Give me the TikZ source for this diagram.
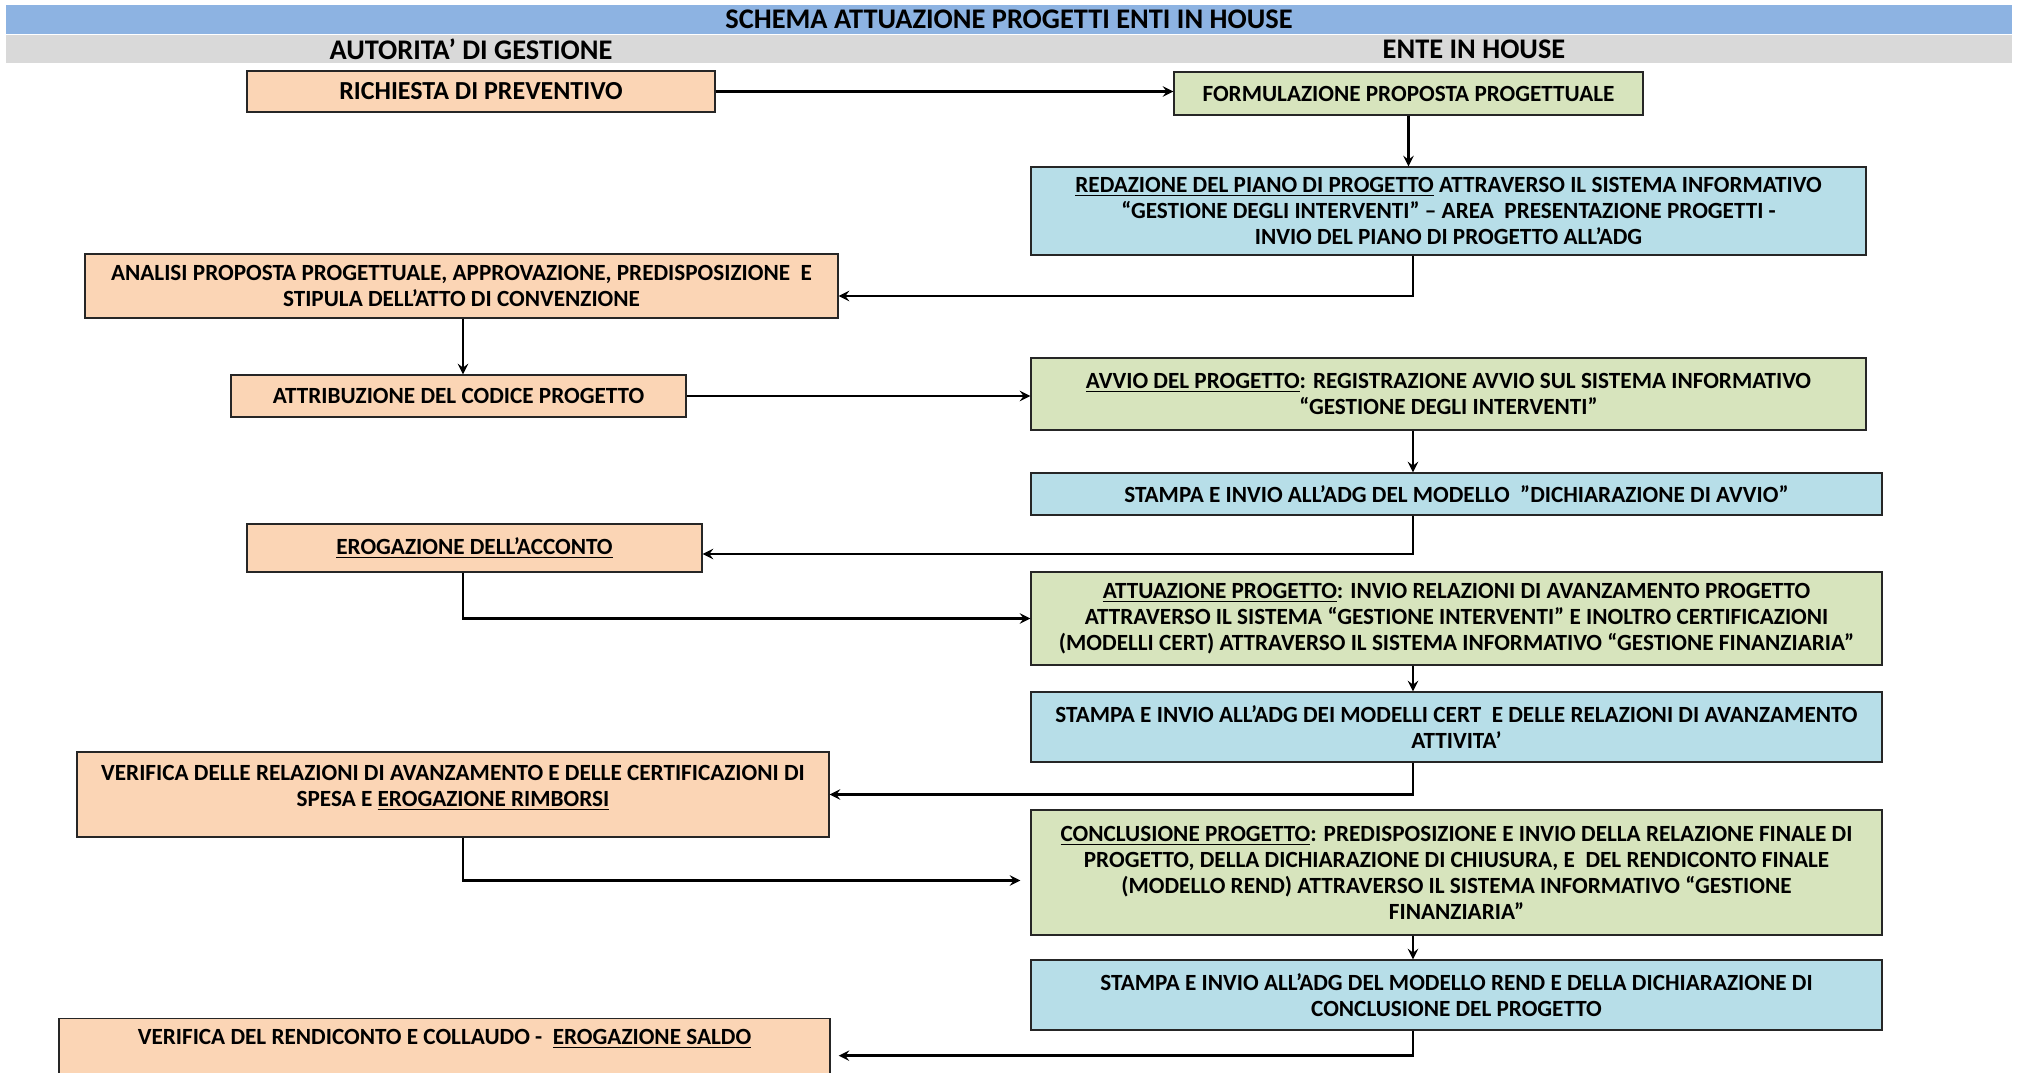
\documentclass[tikz,border=0pt]{standalone}
\usepackage{fontspec}
\setmainfont{Carlito}
\usepackage{tikz}
\usepackage{xcolor}
\usetikzlibrary{arrows, positioning}

\definecolor{headblue}{HTML}{8DB3E2}
\definecolor{headgray}{HTML}{D9D9D9}
\definecolor{agorange}{HTML}{FBD5B5}
\definecolor{entegreen}{HTML}{D7E4BD}
\definecolor{enteblue}{HTML}{B7DEE8}

\begin{document}
\begin{tikzpicture}[x=0.5pt, y=-0.5pt]
\tikzstyle{box} = [rectangle, text centered, align=center, draw=black!85, line width=0.7pt, inner sep=2pt, font=\fontsize{11.6}{13}\selectfont\bfseries]
\tikzstyle{ag} = [box, fill=agorange]
\tikzstyle{green} = [box, fill=entegreen]
\tikzstyle{blue} = [box, fill=enteblue]
\tikzstyle{head} = [inner sep=0pt, font=\fontsize{14.2}{15}\selectfont\bfseries]
\tikzstyle{arrow} = [line width=1.3pt, ->, >=stealth]

\useasboundingbox (0,0) rectangle (2019,1072);
\clip (0,0) rectangle (2019,1072);

% intestazione
\node (titolo) [head, fill=headblue, minimum width=1003pt, minimum height=14.5pt] at (1009,19.5) {SCHEMA ATTUAZIONE PROGETTI ENTI IN HOUSE};
\fill[headgray] (6,35) rectangle (2012,63);
\node (adg) [head] at (471,49) {AUTORITA’ DI GESTIONE};
\node (ente) [head] at (1474,49) {ENTE IN HOUSE};

\coordinate (rx) at (1413,0);
\coordinate (lx) at (463,0);

% autorita' di gestione
\node (richiesta) [ag, minimum width=234pt, minimum height=20.5pt, font=\fontsize{13}{14}\selectfont\bfseries] at (481,91.5) {RICHIESTA DI PREVENTIVO};
\node (analisi) [ag, minimum width=376.5pt, minimum height=32pt] at (461.5,286) {ANALISI PROPOSTA PROGETTUALE, APPROVAZIONE, PREDISPOSIZIONE\ \ E\\STIPULA DELL’ATTO DI CONVENZIONE};
\node (attribuzione) [ag, minimum width=227.5pt, minimum height=21pt] at (458.5,396) {ATTRIBUZIONE DEL CODICE PROGETTO};
\node (acconto) [ag, minimum width=227.5pt, minimum height=24pt] at (474.5,548) {\underline{EROGAZIONE DELL’ACCONTO}};
\node (verifica) [ag, minimum width=376pt, minimum height=42.5pt, text depth=8.5pt] at (453,794.5) {VERIFICA DELLE RELAZIONI DI AVANZAMENTO E DELLE CERTIFICAZIONI DI\\SPESA E \underline{EROGAZIONE RIMBORSI}};
\node (saldo) [ag, anchor=north, minimum width=385.5pt, text height=11pt, text depth=22pt] at (444.5,1018) {VERIFICA DEL RENDICONTO E COLLAUDO -\ \ \underline{EROGAZIONE SALDO}};

% ente in house
\node (formulazione) [green, minimum width=234.5pt, minimum height=21.5pt] at (1408.5,93.5) {FORMULAZIONE PROPOSTA PROGETTUALE};
\node (redazione) [blue, minimum width=417.5pt, minimum height=44pt] at (1448.5,211) {\underline{REDAZIONE DEL PIANO DI PROGETTO} ATTRAVERSO IL SISTEMA INFORMATIVO\\“GESTIONE DEGLI INTERVENTI” – AREA\ \ PRESENTAZIONE PROGETTI -\\INVIO DEL PIANO DI PROGETTO ALL’ADG};
\node (avvio) [green, minimum width=417.5pt, minimum height=36pt] at (1448.5,394) {\underline{AVVIO DEL PROGETTO}: REGISTRAZIONE AVVIO SUL SISTEMA INFORMATIVO\\“GESTIONE DEGLI INTERVENTI”};
\node (stampaavvio) [blue, minimum width=425.5pt, minimum height=21pt] at (1456.5,494) {STAMPA E INVIO ALL’ADG DEL MODELLO\ \ ”DICHIARAZIONE DI AVVIO”};
\node (attuazione) [green, minimum width=425.5pt, minimum height=46.5pt] at (1456.5,618.5) {\underline{ATTUAZIONE PROGETTO}: INVIO RELAZIONI DI AVANZAMENTO PROGETTO\\ATTRAVERSO IL SISTEMA “GESTIONE INTERVENTI” E INOLTRO CERTIFICAZIONI\\(MODELLI CERT) ATTRAVERSO IL SISTEMA INFORMATIVO “GESTIONE FINANZIARIA”};
\node (stampacert) [blue, minimum width=425.5pt, minimum height=35pt] at (1456.5,727) {STAMPA E INVIO ALL’ADG DEI MODELLI CERT\ \ E DELLE RELAZIONI DI AVANZAMENTO\\ATTIVITA’};
\node (conclusione) [green, minimum width=425.5pt, minimum height=62.5pt] at (1456.5,872.5) {\underline{CONCLUSIONE PROGETTO}: PREDISPOSIZIONE E INVIO DELLA RELAZIONE FINALE DI\\PROGETTO, DELLA DICHIARAZIONE DI CHIUSURA, E\ \ DEL RENDICONTO FINALE\\(MODELLO REND) ATTRAVERSO IL SISTEMA INFORMATIVO “GESTIONE\\FINANZIARIA”};
\node (stamparend) [blue, minimum width=425.5pt, minimum height=35pt] at (1456.5,995) {STAMPA E INVIO ALL’ADG DEL MODELLO REND E DELLA DICHIARAZIONE DI\\CONCLUSIONE DEL PROGETTO};

% collegamenti
\draw [arrow] (richiesta.east) -- (richiesta.east -| formulazione.west);
\draw [arrow] (formulazione.south) -- (formulazione.south |- redazione.north);
\draw [arrow] (redazione.south -| rx) |- ([yshift=-5pt]analisi.east);
\draw [arrow] (analisi.south -| lx) -- (attribuzione.north -| lx);
\draw [arrow] (attribuzione.east) -- (attribuzione.east -| avvio.west);
\draw [arrow] (avvio.south -| rx) -- (stampaavvio.north -| rx);
\draw [arrow] (stampaavvio.south -| rx) |- ([yshift=-3pt]acconto.east);
\draw [arrow] (acconto.south -| lx) |- (attuazione.west);
\draw [arrow] (attuazione.south -| rx) -- (stampacert.north -| rx);
\draw [arrow] (stampacert.south -| rx) |- (verifica.east);
\draw [arrow] (verifica.south -| lx) |- ([xshift=-5pt,yshift=-4pt]conclusione.west);
\draw [arrow] (conclusione.south -| rx) -- (stamparend.north -| rx);
\draw [arrow] (stamparend.south -| rx) |- ([xshift=4pt]saldo.east);
\end{tikzpicture}
\end{document}
